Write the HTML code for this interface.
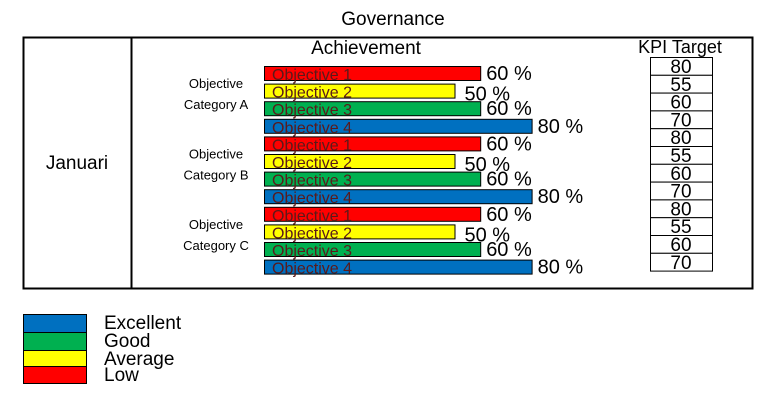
<!DOCTYPE html>
<html><head><meta charset="utf-8"><style>
body{margin:0;background:#fff;width:777px;height:409px;overflow:hidden;font-family:"Liberation Sans",sans-serif}
svg text{font-family:"Liberation Sans",sans-serif}
</style></head><body>
<svg id="c" width="777" height="409">
<text x="393" y="25" font-size="19" text-anchor="middle">Governance</text>
<rect x="23.5" y="37.5" width="729" height="251" fill="none" stroke="#000" stroke-width="2"/>
<line x1="131.5" y1="37" x2="131.5" y2="289" stroke="#000" stroke-width="2"/>
<text x="77" y="169" font-size="19" text-anchor="middle">Januari</text>
<text x="366" y="54" font-size="19" text-anchor="middle">Achievement</text>
<text x="680" y="53" font-size="18" text-anchor="middle">KPI Target</text>
<g id="bars"></g>
<g id="legend"></g>
</svg>
<script>
const categories=["A","B","C"];
const objectives=["Objective 1","Objective 2","Objective 3","Objective 4"];
const achievement=[[60,50,60,80],[60,50,60,80],[60,50,60,80]];
const kpiTargets=[[80,55,60,70],[80,55,60,70],[80,55,60,70]];
const colors=["#ff0000","#ffff00","#00b050","#0070c0"];
const legendLabels=["Excellent","Good","Average","Low"];
const legendColors=["#0070c0","#00b050","#ffff00","#ff0000"];
const NS="http://www.w3.org/2000/svg";
const g=document.getElementById('bars');
function mk(t,a,p){const e=document.createElementNS(NS,t);for(const k in a)e.setAttribute(k,a[k]);(p||g).appendChild(e);return e;}
const x0=264;function wScale(v){return 62+2.57*v;}
const rowY=i=>66+i*17.6;
categories.forEach((c,ci)=>{
  const t1=mk('text',{x:216,y:rowY(ci*4)+22,'font-size':13,'text-anchor':'middle'});t1.textContent='Objective';
  
  
  const t2=mk('text',{x:216,y:rowY(ci*4)+43,'font-size':13,'text-anchor':'middle'});t2.textContent='Category  '+c;
  
  
  achievement[ci].forEach((v,oi)=>{
    const i=ci*4+oi,y=rowY(i),w=wScale(v);
    const r=mk('rect',{x:x0+0.5,y:y+0.5,width:w,height:14,fill:colors[oi],stroke:'#000','stroke-width':1});
    
    
    const l=mk('text',{x:x0+8,y:y+14,'font-size':16,fill:'#5a1a1a'});l.textContent=objectives[oi];
    
    
    const p=mk('text',{x:x0+w+(oi==1?10:6),y:y+(oi==1?17:14),'font-size':20});p.textContent=v+' %';
    
    
    const kb=mk('rect',{x:650.5,y:57.5+i*17.8,width:62,height:17.8,fill:'#fff',stroke:'#000','stroke-width':1});
    
    
    const kt=mk('text',{x:681,y:57+i*17.8+16,'font-size':19,'text-anchor':'middle'});kt.textContent=kpiTargets[ci][oi];
    
    
  });
});
const lg=document.getElementById('legend');
const ly=[314,332,350,366],lh=[18,18,16,17];
legendLabels.forEach((s,i)=>{
  const r=mk('rect',{x:23.5,y:ly[i]+0.5,width:63,height:lh[i],fill:legendColors[i],stroke:'#000','stroke-width':1},lg);
  
  
  const t=mk('text',{x:104,y:ly[i]+15,'font-size':19},lg);t.textContent=s;
  
  
});
</script>
</body></html>
